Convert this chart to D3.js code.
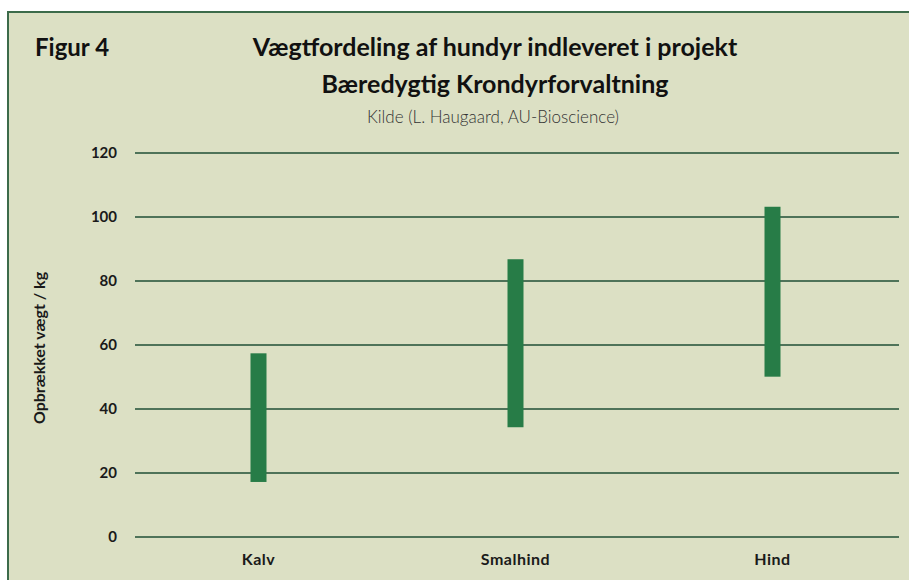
<!DOCTYPE html>
<html><head><meta charset="utf-8">
<script src="https://cdn.jsdelivr.net/npm/d3@7"></script>
<style>
html,body{margin:0;padding:0;background:#fff;}
svg{display:block;}
text{font-family:Lato, "Noto Sans", sans-serif;}
</style></head>
<body>
<svg id="chart" width="909" height="580"></svg>
<script>
const categories = ["Kalv", "Smalhind", "Hind"];
const minValues = [17.2, 34.3, 50.1];
const maxValues = [57.4, 86.8, 103.2];
const yTicks = [0, 20, 40, 60, 80, 100, 120];
const figLabel = "Figur 4";
const titleLines = ["Vægtfordeling af hundyr indleveret i projekt", "Bæredygtig Krondyrforvaltning"];
const subtitle = "Kilde (L. Haugaard, AU-Bioscience)";
const yLabel = "Opbrækket vægt / kg";

const data = categories.map((c, i) => ({cat: c, lo: minValues[i], hi: maxValues[i]}));

const svg = d3.select("#chart");
const bg = "#dce0c4", frame = "#3c6b4a", grid = "#4f7359", bar = "#277c47";

svg.append("rect").attr("x", 8).attr("y", 12).attr("width", 909).attr("height", 580)
  .attr("fill", bg).attr("stroke", frame).attr("stroke-width", 2);

const x = d3.scaleBand().domain(categories).range([130, 901]);
const y = d3.scaleLinear().domain([0, 120]).range([537, 153]);

// grid
svg.append("g").selectAll("line").data(yTicks).join("line")
  .attr("x1", 135).attr("x2", 899)
  .attr("y1", d => y(d)).attr("y2", d => y(d))
  .attr("stroke", grid).attr("stroke-width", 2);

// y axis labels
const yAxis = d3.axisLeft(y).tickValues(yTicks).tickSize(0).tickPadding(0);
const ya = svg.append("g").attr("transform", "translate(117,0)").call(yAxis);
ya.select(".domain").remove();
ya.selectAll("text").attr("font-size", 15).attr("font-weight", 700).attr("fill", "#1a1a1a")
  .attr("font-family", "Lato, sans-serif");

// x axis labels
const xAxis = d3.axisBottom(x).tickSize(0).tickPadding(0);
const xa = svg.append("g").attr("transform", "translate(0,554)").call(xAxis);
xa.select(".domain").remove();
xa.selectAll("text").attr("font-size", 16).attr("font-weight", 700).attr("fill", "#1a1a1a")
  .attr("letter-spacing", 0.5)
  .attr("font-family", "Lato, sans-serif");

// bars (floating range)
const bw = 16;
svg.append("g").selectAll("rect").data(data).join("rect")
  .attr("x", d => x(d.cat) + x.bandwidth()/2 - bw/2)
  .attr("width", bw)
  .attr("y", d => y(d.hi))
  .attr("height", d => y(d.lo) - y(d.hi))
  .attr("fill", bar);

// titles
svg.append("text").attr("x", 35).attr("y", 56).attr("font-size", 24).attr("font-weight", 700)
  .attr("fill", "#111").text(figLabel);
svg.append("g").selectAll("text").data(titleLines).join("text")
  .attr("x", 495).attr("y", (d, i) => 56 + i * 37)
  .attr("text-anchor", "middle").attr("font-size", 25).attr("font-weight", 700)
  .attr("fill", "#111").text(d => d);
svg.append("text").attr("x", 493).attr("y", 123).attr("text-anchor", "middle")
  .attr("font-size", 17).attr("font-weight", 300).attr("fill", "#333").text(subtitle);

svg.append("text").attr("transform", "translate(45,348) rotate(-90)")
  .attr("text-anchor", "middle").attr("font-size", 16).attr("font-weight", 700)
  .attr("fill", "#1a1a1a").text(yLabel);
</script>
</body></html>
